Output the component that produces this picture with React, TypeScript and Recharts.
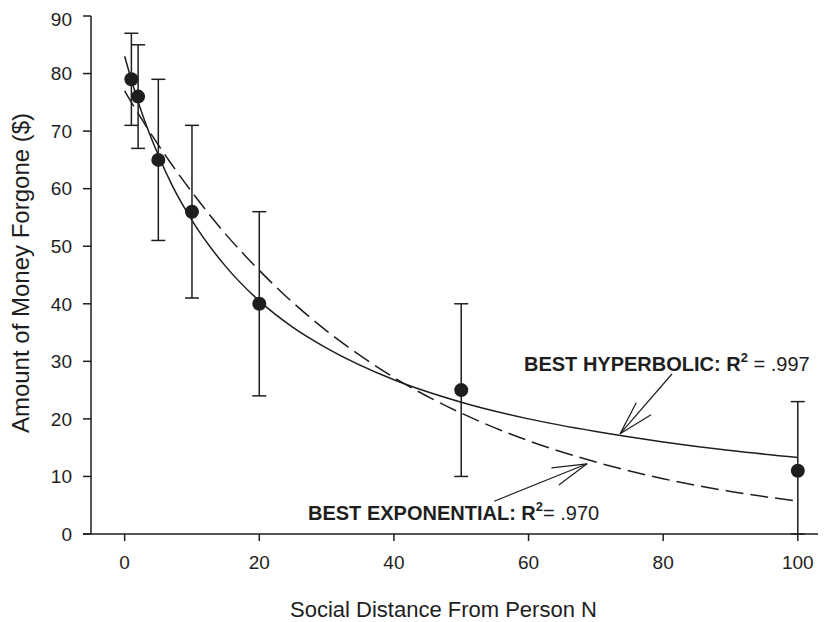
import React from 'react';
import { ComposedChart, Scatter, Line, XAxis, YAxis, ErrorBar, ReferenceLine } from 'recharts';

// Observed group means (social distance N vs. amount forgone) with error bars
const distances = [1, 2, 5, 10, 20, 50, 100];
const amounts = [79, 76, 65, 56, 40, 25, 11];
const errLow = [8, 9, 14, 15, 16, 15, 11];
const errHigh = [8, 9, 14, 15, 16, 15, 12];

// Fitted curves
const curveN = [0, 1, 2, 3, 5, 7, 10, 15, 20, 25, 30, 40, 50, 60, 70, 80, 90, 100];
const hyperbolic = [83, 78.9, 75.1, 71.7, 65.8, 60.7, 54.5, 46.5, 40.5, 35.9, 32.3, 26.8, 22.9, 20.0, 17.8, 16.0, 14.5, 13.3];
const exponential = [77, 75.0, 73.1, 71.2, 67.6, 64.2, 59.4, 52.1, 45.8, 40.2, 35.3, 27.2, 21.0, 16.2, 12.5, 9.6, 7.4, 5.7];

const xTicks = [0, 20, 40, 60, 80, 100];
const yTicks = [0, 10, 20, 30, 40, 50, 60, 70, 80, 90];

// Annotation arrows (data coordinates)
const hypArrow = { from: { x: 81.3, y: 27.8 }, tip: { x: 73.6, y: 17.4 }, barbA: { x: 76.0, y: 22.8 }, barbB: { x: 78.2, y: 20.7 } };
const expArrow = { from: { x: 54.9, y: 5.7 }, tip: { x: 68.7, y: 12.2 }, barbA: { x: 63.4, y: 11.5 }, barbB: { x: 64.5, y: 8.5 } };

const points = distances.map((x, i) => ({ x, y: amounts[i], err: [errLow[i], errHigh[i]] }));
const hypData = curveN.map((x, i) => ({ x, v: hyperbolic[i] }));
const expData = curveN.map((x, i) => ({ x, v: exponential[i] }));

const INK = '#1e1e1e';
const FONT = '"Liberation Sans", Arial, sans-serif';
const W = 821;
const H = 614;

const Dot = (props: any) => <circle cx={props.cx} cy={props.cy} r={7} fill={INK} />;

const arrowSegs = (a: any) => [
  [a.from, a.tip],
  [a.barbA, a.tip],
  [a.barbB, a.tip],
];

export default function App() {
  return (
    <div style={{ position: 'relative', width: W, height: H, fontFamily: FONT }}>
      <ComposedChart width={W} height={H} margin={{ top: 8, right: 11, bottom: 58, left: 0 }}>
        <XAxis
          type="number"
          dataKey="x"
          domain={[-5, 103]}
          ticks={xTicks}
          allowDataOverflow
          height={30}
          tickSize={7}
          tickMargin={15}
          tick={{ fontSize: 19, fill: INK, fontFamily: FONT }}
          axisLine={{ stroke: INK, strokeWidth: 1.5 }}
          tickLine={{ stroke: INK, strokeWidth: 1.5 }}
        />
        <YAxis
          type="number"
          domain={[0, 90]}
          ticks={yTicks}
          width={83}
          tickSize={8}
          tickMargin={11}
          tick={{ fontSize: 19, fill: INK, fontFamily: FONT }}
          axisLine={{ stroke: INK, strokeWidth: 1.5 }}
          tickLine={{ stroke: INK, strokeWidth: 1.5 }}
        />
        <Line
          data={hypData}
          dataKey="v"
          type="monotone"
          stroke={INK}
          strokeWidth={1.5}
          dot={false}
          isAnimationActive={false}
        />
        <Line
          data={expData}
          dataKey="v"
          type="monotone"
          stroke={INK}
          strokeWidth={1.5}
          strokeDasharray="18 7"
          dot={false}
          isAnimationActive={false}
        />
        {arrowSegs(hypArrow).concat(arrowSegs(expArrow)).map((seg, i) => (
          <ReferenceLine key={i} segment={seg} stroke={INK} strokeWidth={1.2} />
        ))}
        <Scatter data={points} dataKey="y" shape={Dot} isAnimationActive={false}>
          <ErrorBar dataKey="err" direction="y" width={7} stroke={INK} strokeWidth={1.5} />
        </Scatter>
      </ComposedChart>
      <svg width={W} height={H} style={{ position: 'absolute', left: 0, top: 0, pointerEvents: 'none' }}>
        <line x1={75} y1={526} x2={83} y2={526} stroke={INK} strokeWidth={1.5} />
        <text x={282} y={609} fontSize={22} fill={INK} fontFamily={FONT}>Social Distance From Person N</text>
        <text x={21} y={265} fontSize={24} fill={INK} fontFamily={FONT} textAnchor="middle" transform="rotate(-90 21 265)">
          Amount of Money Forgone ($)
        </text>
        <text x={516} y={363} fontSize={20} fill={INK} fontFamily={FONT}>
          <tspan fontWeight="bold">BEST HYPERBOLIC: R</tspan>
          <tspan fontSize={13} fontWeight="bold" dy={-9}>2</tspan>
          <tspan dy={9}> = .997</tspan>
        </text>
        <text x={300} y={512} fontSize={20} fill={INK} fontFamily={FONT}>
          <tspan fontWeight="bold">BEST EXPONENTIAL: R</tspan>
          <tspan fontSize={13} fontWeight="bold" dy={-9}>2</tspan>
          <tspan dy={9}>= .970</tspan>
        </text>
      </svg>
    </div>
  );
}
